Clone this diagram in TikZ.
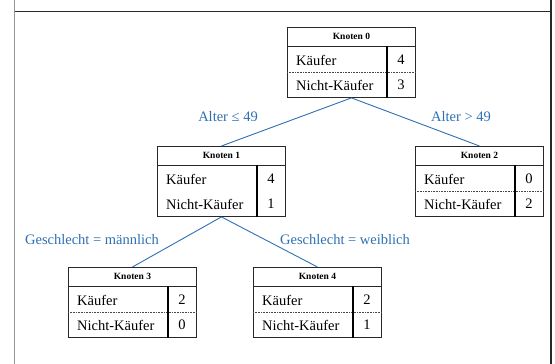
\documentclass[tikz,border=0pt]{standalone}
\usepackage{fontspec}
\setmainfont{Liberation Serif}
\definecolor{edgeblue}{RGB}{46,112,178}
\definecolor{boxline}{RGB}{40,40,40}
\definecolor{framegray}{RGB}{150,150,150}
\tikzset{
  kbox/.style={draw=boxline, line width=0.9pt, minimum width=128pt, minimum height=70pt, inner sep=0pt, anchor=north west},
  khead/.style={font=\fontsize{9.5}{11}\selectfont\bfseries, inner sep=0pt},
  krow/.style={font=\fontsize{14.5}{16}\selectfont, inner sep=0pt, anchor=west},
  knum/.style={font=\fontsize{14.5}{16}\selectfont, inner sep=0pt},
  kedge/.style={draw=edgeblue, line width=0.9pt},
  klabel/.style={text=edgeblue, font=\fontsize{14.5}{16}\selectfont, inner sep=0pt},
  kdots/.style={draw=boxline!85, line width=0.7pt, dash pattern=on 0.8pt off 0.8pt},
  kframe/.style={draw=boxline, line width=1.1pt}
}
% #1 name, #2 x, #3 y, #4 title, #5 n1, #6 n2, #7 style of row separator
\newcommand{\knotenbox}[7]{%
  \node[kbox] (#1) at (#2,#3) {};
  \draw[draw=boxline, line width=0.9pt] ([yshift=-19pt]#1.north west) -- ([yshift=-19pt]#1.north east);
  \draw[#7] ([yshift=-45pt]#1.north west) -- ([yshift=-45pt]#1.north east);
  \draw[draw=black, line width=1.4pt] ([xshift=100pt,yshift=-19pt]#1.north west) -- ([xshift=100pt]#1.south west);
  \node[khead] (#1h) at ([yshift=-9.5pt]#1.north) {#4};
  \node[krow] (#1a) at ([xshift=9pt,yshift=-33pt]#1.north west) {Käufer};
  \node[krow] (#1b) at ([xshift=9pt,yshift=-58pt]#1.north west) {Nicht-Käufer};
  \node[knum] (#1an) at ([xshift=114pt,yshift=-33pt]#1.north west) {#5};
  \node[knum] (#1bn) at ([xshift=114pt,yshift=-58pt]#1.north west) {#6};
}
\begin{document}
\begin{tikzpicture}[x=1pt,y=-1pt]
\useasboundingbox (0,0) rectangle (555,364);
% frame
\coordinate (fl0) at (14.5,0);
\coordinate (fl1) at (14.5,364);
\coordinate (fr0) at (551,0);
\coordinate (fr1) at (551,364);
\coordinate (ft0) at (14.5,11.5);
\coordinate (ft1) at (551,11.5);
\draw[draw=framegray, line width=1.5pt] (fl0) -- (fl1);
\draw[kframe] (fr0) -- (fr1);
\draw[kframe] (ft0) -- (ft1);
% boxes
\knotenbox{k0}{287}{27}{Knoten 0}{4}{3}{kdots}
\knotenbox{k1}{157}{146}{Knoten 1}{4}{1}{draw=none}
\knotenbox{k2}{415}{146}{Knoten 2}{0}{2}{kdots}
\knotenbox{k3}{68}{267}{Knoten 3}{2}{0}{kdots}
\knotenbox{k4}{253}{267}{Knoten 4}{2}{1}{kdots}
% edges
\draw[kedge] (k0.south) -- (k1.north);
\draw[kedge] (k0.south) -- (k2.north);
\draw[kedge] (k1.south) -- (k3.north);
\draw[kedge] (k1.south) -- (k4.north);
% labels
\node[klabel] (l1) at (228,117) {Alter ≤ 49};
\node[klabel] (l2) at (461,117) {Alter > 49};
\node[klabel] (l3) at (92,240) {Geschlecht = männlich};
\node[klabel] (l4) at (345,240) {Geschlecht = weiblich};
\end{tikzpicture}
\end{document}
